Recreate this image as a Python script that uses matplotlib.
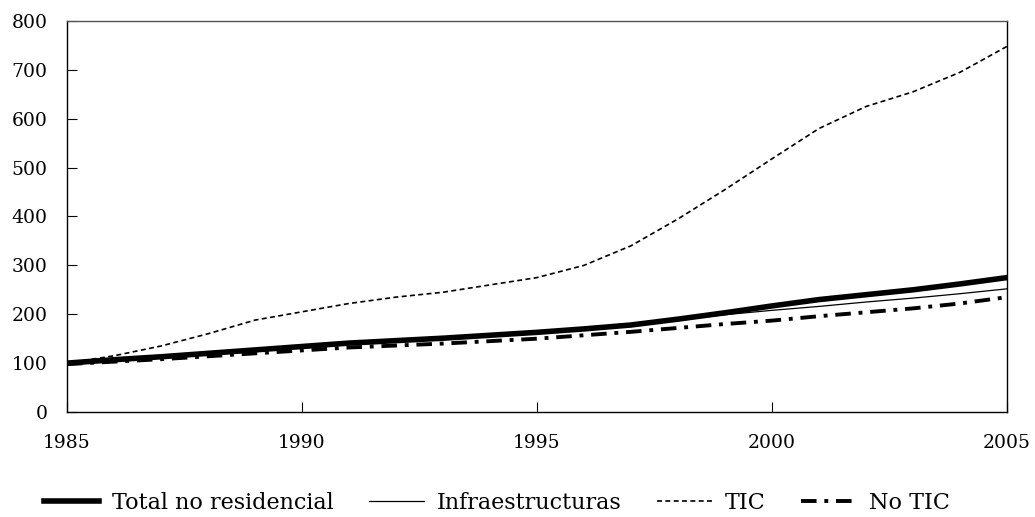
import matplotlib.pyplot as plt

years = list(range(1985, 2006))
total = [100, 107, 113, 120, 127, 134, 141, 146, 151, 157, 163, 170, 178, 190, 203, 217, 230, 240, 250, 262, 275]
infra = [100, 106, 112, 119, 126, 133, 140, 146, 152, 158, 165, 171, 178, 188, 199, 208, 216, 225, 233, 242, 252]
tic = [100, 115, 135, 160, 188, 205, 222, 235, 245, 260, 275, 300, 340, 395, 455, 518, 580, 625, 655, 695, 748]
no_tic = [98, 103, 108, 114, 120, 126, 132, 136, 140, 145, 150, 157, 164, 172, 180, 187, 196, 204, 212, 222, 235]

plt.rcParams["font.family"] = ["DejaVu Serif"]

fig = plt.figure(figsize=(10.35, 5.17), dpi=100)
ax = fig.add_axes([0.0647, 0.2031, 0.9082, 0.7563])

ax.plot(years, total, color="black", linewidth=4, label="Total no residencial")
ax.plot(years, infra, color="black", linewidth=0.9, label="Infraestructuras")
ax.plot(years, tic, color="black", linewidth=1.2, linestyle=(0, (3, 2)), label="TIC")
ax.plot(years, no_tic, color="black", linewidth=2.8, linestyle=(0, (4, 2, 1, 2)), label="No TIC")

ax.set_xlim(1985, 2005)
ax.set_ylim(0, 800)
ax.set_xticks(range(1985, 2006, 5))
ax.set_yticks(range(0, 801, 100))
ax.tick_params(direction="in", labelsize=13.5, length=7, width=0.8)
ax.tick_params(axis="y", pad=14)
ax.tick_params(axis="x", pad=16)
for s in ax.spines.values():
    s.set_linewidth(1)
ax.spines["top"].set_color("#555555")

fig.legend(loc="center", bbox_to_anchor=(0.48, 1 - 503 / 517), ncol=4, frameon=False,
           fontsize=16, handlelength=2.5, columnspacing=1.6, handletextpad=0.55)

plt.savefig("out.png", dpi=100)
plt.close()
